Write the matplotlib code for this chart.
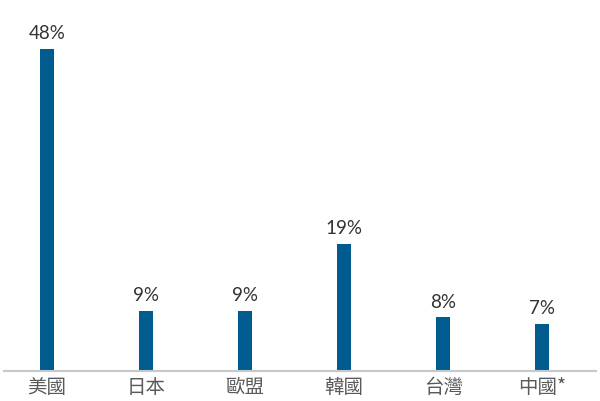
import matplotlib
matplotlib.use("Agg")
import matplotlib.pyplot as plt

plt.rcParams['font.family'] = ['Lato', 'Noto Sans CJK TC', 'DejaVu Sans']

regions = ['美國', '日本', '歐盟', '韓國', '台灣', '中國*']
shares = [48, 9, 9, 19, 8, 7]

fig = plt.figure(figsize=(6, 4.02), dpi=100)
ax = fig.add_axes([4 / 600, 1 - 372 / 402, 592 / 600, 369 / 402])

x = list(range(len(regions)))
ax.bar(x, shares, width=0.141, color='#005b8f', zorder=2)
for xi, v in zip(x, shares):
    ax.annotate(f'{v}%', (xi, v), xytext=(0, 5.5), textcoords='offset points',
                ha='center', va='bottom', fontsize=13.5, color='#333333')

ax.set_xlim(-0.434, 5.545)
ax.set_ylim(0, 55)
ax.set_xticks(x)
ax.set_xticklabels(regions, fontsize=14, color='#5a5a5a', fontweight='light',
                   family=['Noto Sans CJK TC', 'DejaVu Sans'])
ax.tick_params(axis='x', length=0, pad=3.5)
ax.set_yticks([])
for s in ['top', 'right', 'left']:
    ax.spines[s].set_visible(False)
ax.spines['bottom'].set_color('#c8c8c8')
ax.spines['bottom'].set_linewidth(1.5)

fig.savefig('out.png', dpi=100)
